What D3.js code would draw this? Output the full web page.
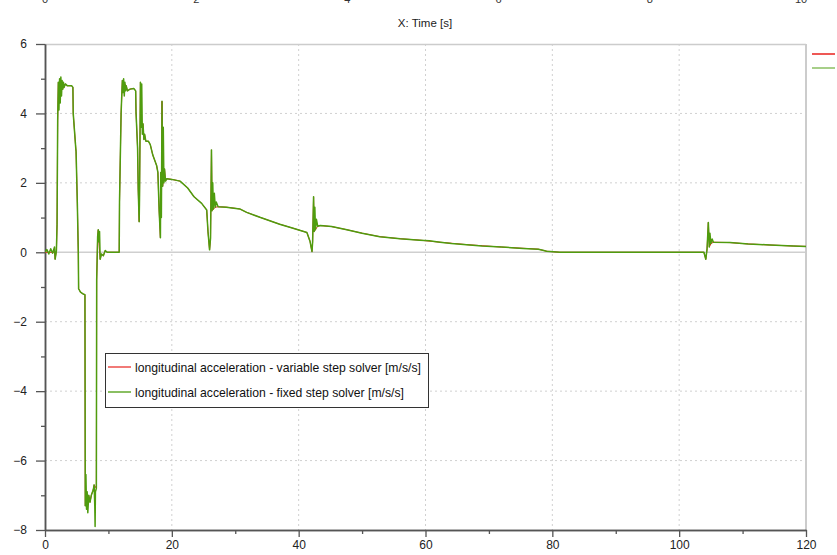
<!DOCTYPE html>
<html>
<head>
<meta charset="utf-8">
<script src="https://cdn.jsdelivr.net/npm/d3@7"></script>
<style>
  body { margin: 0; background: #fff; }
  svg { display: block; font-family: "Liberation Sans", Arial, sans-serif; }
</style>
</head>
<body>
<div id="container"></div>
<script>
// fixed step solver series (time [s], accel [m/s/s])
const fixedTime = [0, 0.3, 0.6, 0.9, 1.2, 1.5, 1.6, 1.8, 1.9, 2.0, 2.1, 2.2, 2.3, 2.4, 2.5, 2.6, 2.7, 2.8, 2.9, 3.0, 3.2, 3.5,
  4.2, 4.4, 4.45, 4.85, 4.9, 5.1, 5.25, 5.3, 5.6, 6.0, 6.3, 6.35, 6.45, 6.55, 6.65, 6.75, 6.9, 7.1, 7.3, 7.6, 7.75, 7.85,
  7.9, 7.95, 8.1, 8.15, 8.3, 8.4, 8.5, 8.6, 8.7, 8.9, 9.2, 9.5, 9.8, 11.7, 11.75, 12.0, 12.1, 12.2, 12.3, 12.4, 12.5, 12.6,
  12.7, 12.8, 13.0, 13.4, 14.0, 14.3, 14.35, 14.6, 14.7, 14.85, 14.9, 15.05, 15.15, 15.25, 15.35, 15.45, 15.6, 15.7, 15.9,
  16.3, 16.6, 17.0, 17.6, 17.8, 18.0, 18.2, 18.25, 18.35, 18.45, 18.55, 18.65, 18.75, 18.85, 19.0, 19.2, 20.0, 21.3, 22.5,
  23.5, 24.7, 25.5, 25.7, 25.95, 26.1, 26.25, 26.35, 26.45, 26.55, 26.7, 26.85, 27.0, 27.3, 28.6, 30.7, 31.8, 34.0, 37.0,
  39.0, 41.3, 41.8, 42.1, 42.2, 42.35, 42.45, 42.55, 42.65, 42.8, 43.0, 43.4, 45.2, 47.6, 50.0, 52.8, 56.0, 59.1, 60.6,
  62.3, 64.1, 66.5, 68.9, 72.0, 75.4, 77.8, 78.5, 79.1, 81.2, 103.9, 104.2, 104.4, 104.6, 104.75, 104.85, 105.0, 105.2,
  105.4, 108.0, 110.9, 114.3, 118.0, 120.0];
const fixedAccel = [0, 0.08, -0.05, 0.1, -0.03, 0.15, -0.2, 0.05, 0.8, 3.8, 4.9, 4.1, 5.0, 4.3, 5.05, 4.5, 4.95, 4.7, 4.9, 4.75, 4.85, 4.8,
  4.8, 4.75, 4.0, 3.0, 2.9, 1.4, 0.0, -1.05, -1.15, -1.2, -1.22, -7.3, -6.4, -7.4, -6.9, -7.5, -7.0, -7.2, -7.0, -6.85, -6.7, -7.3,
  -7.9, -6.9, -6.8, -0.8, 0.45, 0.65, 0.3, 0.6, -0.2, -0.05, -0.1, 0.05, 0.0, 0.0, 1.45, 4.0, 4.5, 4.95, 4.6, 5.0, 4.5, 4.9,
  4.65, 4.8, 4.65, 4.7, 4.72, 4.65, 4.05, 3.0, 1.8, 0.88, 1.5, 4.9, 3.6, 4.85, 3.4, 3.7, 3.25, 3.4, 3.2,
  3.2, 3.1, 2.8, 2.5, 2.3, 1.2, 0.42, 2.3, 1.0, 4.35, 1.9, 3.6, 2.0, 2.4, 2.05, 2.12, 2.1, 2.05, 1.85,
  1.6, 1.41, 1.22, 0.6, 0.07, 0.4, 2.95, 1.2, 2.0, 1.25, 1.7, 1.3, 1.45, 1.31, 1.3, 1.25, 1.15, 1.0, 0.81,
  0.7, 0.57, 0.31, 0.02, 0.3, 1.6, 0.6, 1.3, 0.65, 0.95, 0.75, 0.77, 0.74, 0.65, 0.55, 0.45, 0.39, 0.35, 0.33,
  0.29, 0.25, 0.22, 0.18, 0.15, 0.11, 0.09, 0.06, 0.03, 0.0, 0.0, -0.2, 0.1, 0.86, 0.15, 0.55, 0.25, 0.38,
  0.29, 0.28, 0.24, 0.21, 0.18, 0.17];

// variable step solver series (lies almost entirely under the fixed step one)
const varTime = [0, 1.5, 1.6, 1.8, 1.9, 2.0, 2.1, 2.8, 2.9, 3.0, 3.2, 3.5, 4.2, 4.4, 4.45, 4.85, 4.9, 5.1, 5.25, 5.3, 5.6, 6.0,
  6.3, 6.35, 6.9, 7.1, 7.3, 7.6, 7.75, 8.1, 8.15, 8.3, 8.4, 8.5, 8.7, 8.9, 9.2, 9.5, 9.8, 11.7, 11.75, 12.0, 12.2, 12.8,
  13.0, 13.4, 14.0, 14.3, 14.35, 14.6, 14.7, 14.85, 14.9, 15.05, 15.15, 15.45, 15.6, 15.7, 15.9, 16.3, 16.6, 17.0, 17.6,
  17.8, 18.0, 18.2, 18.25, 18.35, 18.45, 18.55, 18.85, 19.0, 19.2, 20.0, 21.3, 22.5, 23.5, 24.7, 25.5, 25.7, 25.95, 26.1,
  26.25, 26.35, 26.85, 27.3, 28.6, 30.7, 31.8, 34.0, 37.0, 39.0, 41.3, 41.8, 42.1, 42.2, 42.35, 42.45, 43.0, 43.4, 45.2,
  47.6, 50.0, 52.8, 56.0, 59.1, 62.3, 66.5, 72.0, 77.8, 79.1, 81.2, 103.9, 104.2, 104.4, 104.6, 104.75, 105.0, 105.4,
  108.0, 110.9, 114.3, 118.0, 120.0];
const varAccel = [0, 0.0, -0.2, 0.05, 0.8, 3.8, 4.9, 4.7, 4.9, 4.75, 4.85, 4.8, 4.8, 4.75, 4.0, 3.0, 2.9, 1.4, 0.0, -1.05, -1.15, -1.2,
  -1.22, -7.3, -7.0, -7.2, -7.0, -6.85, -6.7, -6.8, -0.8, 0.45, 0.65, 0.3, -0.2, -0.05, -0.1, 0.05, 0.0, 0.0, 1.45, 4.0, 4.95, 4.8,
  4.65, 4.7, 4.72, 4.65, 4.05, 3.0, 1.8, 0.88, 1.5, 4.9, 3.6, 3.7, 3.25, 3.4, 3.2, 3.2, 3.1, 2.8, 2.5,
  2.3, 1.2, 0.42, 2.3, 1.0, 4.35, 1.9, 2.4, 2.05, 2.12, 2.1, 2.05, 1.85, 1.6, 1.41, 1.22, 0.6, 0.07, 0.4,
  2.95, 1.2, 1.3, 1.31, 1.3, 1.25, 1.15, 1.0, 0.81, 0.7, 0.57, 0.31, 0.02, 0.3, 1.6, 0.6, 0.75, 0.77, 0.74,
  0.65, 0.55, 0.45, 0.39, 0.35, 0.29, 0.22, 0.15, 0.09, 0.03, 0.0, 0.0, -0.2, 0.1, 0.86, 0.15, 0.25, 0.29,
  0.28, 0.24, 0.21, 0.18, 0.17];

const legendLabels = [
  'longitudinal acceleration - variable step solver [m/s/s]',
  'longitudinal acceleration - fixed step solver [m/s/s]'
];
const seriesColors = ['#e8201c', '#4f9c0e'];
const xTicks = [0, 20, 40, 60, 80, 100, 120];
const yTicks = [-8, -6, -4, -2, 0, 2, 4, 6];
const topAxisLabels = ['0', '2', '4', '6', '8', '10'];

const W = 837, H = 555;
const margin = { top: 44, right: 31, bottom: 25, left: 45 };
const width = W - margin.left - margin.right,
  height = H - margin.top - margin.bottom;

const svg = d3.select('#container').append('svg')
  .attr('width', W)
  .attr('height', H);

// cut-off axis of the chart above
const topScale = d3.scalePoint().domain(topAxisLabels).range([45, 801]);
svg.append('g').selectAll('text')
  .data(topAxisLabels)
  .join('text')
  .attr('x', d => topScale(d))
  .attr('y', 3)
  .attr('text-anchor', 'middle')
  .attr('font-size', 11)
  .attr('fill', '#333')
  .text(d => d);

svg.append('text')
  .attr('x', 425)
  .attr('y', 27)
  .attr('text-anchor', 'middle')
  .attr('font-size', 11.5)
  .attr('fill', '#222')
  .text('X: Time [s]');

const c = svg.append('g')
  .attr('transform', `translate(${margin.left},${margin.top})`);

const xScale = d3.scaleLinear().domain([0, 120]).range([0, width]);
const yScale = d3.scaleLinear().domain([-8, 6]).range([height, 0]);

// grid
c.append('g').selectAll('line')
  .data(xTicks.filter(d => d > 0 && d < 120))
  .join('line')
  .attr('x1', d => xScale(d)).attr('x2', d => xScale(d))
  .attr('y1', 0).attr('y2', height)
  .attr('stroke', '#d0d0d0')
  .attr('stroke-dasharray', '2,3');

c.append('g').selectAll('line')
  .data(yTicks.filter(d => d > -8 && d < 6 && d !== 0))
  .join('line')
  .attr('x1', 0).attr('x2', width)
  .attr('y1', d => yScale(d)).attr('y2', d => yScale(d))
  .attr('stroke', '#d0d0d0')
  .attr('stroke-dasharray', '2,3');

c.append('line')
  .attr('x1', 0).attr('x2', width)
  .attr('y1', yScale(0)).attr('y2', yScale(0))
  .attr('stroke', '#cfcfcf')
  .attr('stroke-width', 1.5);

// frame top/right
c.append('line')
  .attr('x1', 0).attr('x2', width).attr('y1', 0.5).attr('y2', 0.5)
  .attr('stroke', '#cccccc').attr('stroke-width', 1.5);
c.append('line')
  .attr('x1', width).attr('x2', width).attr('y1', 0).attr('y2', height)
  .attr('stroke', '#cccccc').attr('stroke-width', 2);

// axes
c.append('g')
  .attr('transform', `translate(0, ${height})`)
  .call(d3.axisBottom(xScale).tickValues(xTicks).tickSize(7).tickSizeOuter(0).tickPadding(3));
c.append('g')
  .attr('transform', `translate(0, ${height})`)
  .call(d3.axisBottom(xScale).tickValues(d3.range(10, 120, 20)).tickSize(4).tickSizeOuter(0).tickFormat(''));

c.append('g')
  .call(d3.axisLeft(yScale).tickValues(yTicks).tickSize(9).tickSizeOuter(0).tickPadding(9));
c.append('g')
  .call(d3.axisLeft(yScale).tickValues(d3.range(-7, 6, 2)).tickSize(4).tickSizeOuter(0).tickFormat(''));

c.selectAll('.domain').attr('stroke', '#555').attr('stroke-width', 1.5);
c.selectAll('.tick line').attr('stroke', '#555').attr('stroke-width', 1.3);
c.selectAll('.tick text').attr('font-size', 12).attr('fill', '#222')
  .attr('font-family', '"Liberation Sans", Arial, sans-serif');

// series
const line = d3.line()
  .x(d => xScale(d[0]))
  .y(d => yScale(d[1]));

c.append('clipPath').attr('id', 'clip')
  .append('rect').attr('width', width).attr('height', height + 2).attr('y', -1);

const series = [d3.zip(varTime, varAccel), d3.zip(fixedTime, fixedAccel)];

c.append('g').attr('clip-path', 'url(#clip)')
  .selectAll('path')
  .data(series)
  .join('path')
  .attr('d', line)
  .attr('fill', 'none')
  .attr('stroke', (d, i) => seriesColors[i])
  .attr('stroke-width', (d, i) => i === 0 ? 1 : 1.5)
  .attr('stroke-linejoin', 'round');

// legend box
const lg = svg.append('g').attr('transform', 'translate(105,353)');
lg.append('rect')
  .attr('x', 0.5).attr('y', 0.5)
  .attr('width', 323).attr('height', 54)
  .attr('fill', '#fff')
  .attr('stroke', '#333');
const legendColors = ['#e8201c', '#8abf62'];
const row = lg.selectAll('g.row')
  .data(legendLabels)
  .join('g')
  .attr('class', 'row')
  .attr('transform', (d, i) => `translate(0, ${14 + i * 25})`);
row.append('line')
  .attr('x1', 3).attr('x2', 26)
  .attr('stroke', (d, i) => legendColors[i])
  .attr('stroke-width', (d, i) => i === 0 ? 1.2 : 2);
row.append('text')
  .attr('x', 30)
  .attr('y', 4.5)
  .attr('font-size', 12.2)
  .attr('fill', '#111')
  .text(d => d);

// right side legend stubs
svg.append('g').selectAll('line')
  .data(legendColors)
  .join('line')
  .attr('x1', 812).attr('x2', 835)
  .attr('y1', (d, i) => 54 + i * 14).attr('y2', (d, i) => 54 + i * 14)
  .attr('stroke', d => d)
  .attr('stroke-width', 1.5);
</script>
</body>
</html>
